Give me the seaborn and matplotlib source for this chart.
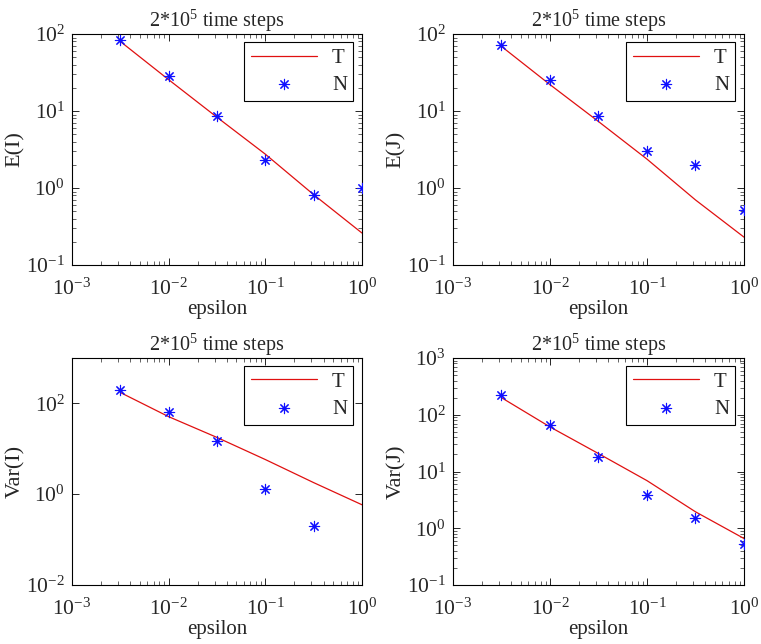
import numpy as np
import matplotlib
matplotlib.use("Agg")
import matplotlib.pyplot as plt
import matplotlib.ticker as mticker
import seaborn as sns

# epsilon values where the numerical runs were done
eps = [0.00316, 0.01, 0.0316, 0.1, 0.316, 1.0]

# theory curves
t_EI = [80, 25.5, 8.3, 2.75, 0.82, 0.26]
t_EJ = [69, 22, 7.3, 2.37, 0.70, 0.23]
t_VI = [174, 51, 17.8, 5.8, 1.8, 0.585]
t_VJ = [200, 61, 20.7, 6.9, 1.95, 0.66]

# numerical estimates (blue stars)
n_EI = [84, 28.7, 8.5, 2.32, 0.81, 0.99]
n_EJ = [72.7, 25, 8.5, 3.04, 2.0, 0.52]
n_VI = [195, 63.5, 14.6, 1.28, 0.197]
n_VJ = [220, 67, 18.1, 3.9, 1.53, 0.52]

ylabels = ["E(I)", "E(J)", "Var(I)", "Var(J)"]
title = "2*10$^5$ time steps"

sns.set_style("ticks")
plt.rcParams["font.family"] = ["Liberation Serif", "DejaVu Serif"]
plt.rcParams["mathtext.fontset"] = "custom"
plt.rcParams["mathtext.rm"] = "Liberation Serif"
plt.rcParams["mathtext.it"] = "Liberation Serif:italic"
plt.rcParams["font.size"] = 13
plt.rcParams["axes.linewidth"] = 0.8

fig = plt.figure(figsize=(7.61, 6.44), dpi=100)
W, H = 761, 644
boxes = [(72, 34, 290, 231), (453, 34, 291, 231),
         (72, 358, 290, 227), (453, 358, 291, 227)]

panels = [
    (t_EI, n_EI, (0.1, 100)),
    (t_EJ, n_EJ, (0.1, 100)),
    (t_VI, n_VI, (1e-2, 1e3)),
    (t_VJ, n_VJ, (0.1, 1e3)),
]

for i, ((x0, y0, w, h), (t, n, ylim)) in enumerate(zip(boxes, panels)):
    ax = fig.add_axes([x0 / W, 1 - (y0 + h) / H, w / W, h / H])
    sns.lineplot(x=eps, y=t, ax=ax, color="#e01010", linewidth=0.9, label="T")
    sns.scatterplot(x=eps[:len(n)], y=n, ax=ax, color="#1010ff", marker=(8, 2, 0),
                    s=55, linewidth=0.8, edgecolor="#1010ff", label="N", zorder=3)
    ax.set_xscale("log")
    ax.set_yscale("log")
    ax.set_xlim(1e-3, 1)
    ax.set_ylim(*ylim)
    ax.set_xticks([1e-3, 1e-2, 1e-1, 1])
    if i == 2:
        ax.set_yticks([1e-2, 1, 1e2])
        ax.yaxis.set_minor_locator(mticker.NullLocator())
    ax.tick_params(which="both", direction="in", top=True, right=True,
                   labelsize=15.5)
    ax.tick_params(axis="x", pad=10)
    ax.tick_params(axis="y", pad=5)
    ax.tick_params(which="major", length=5, width=0.7)
    ax.tick_params(which="minor", length=3, width=0.5)
    for sp in ax.spines.values():
        sp.set_visible(True)
        sp.set_color("black")
    ax.set_xlabel("epsilon", fontsize=15, labelpad=0)
    ax.set_ylabel(ylabels[i], fontsize=16, labelpad=1)
    ax.set_title(title, fontsize=14.5, pad=5)
    leg = ax.legend(loc="upper right", bbox_to_anchor=(0.97, 0.965),
                    borderaxespad=0, fancybox=False, framealpha=1,
                    edgecolor="black", handlelength=3.2, fontsize=15,
                    borderpad=0.3, labelspacing=0.35, handletextpad=0.7)
    leg.get_frame().set_linewidth(0.8)

fig.savefig("out.png", dpi=100)
